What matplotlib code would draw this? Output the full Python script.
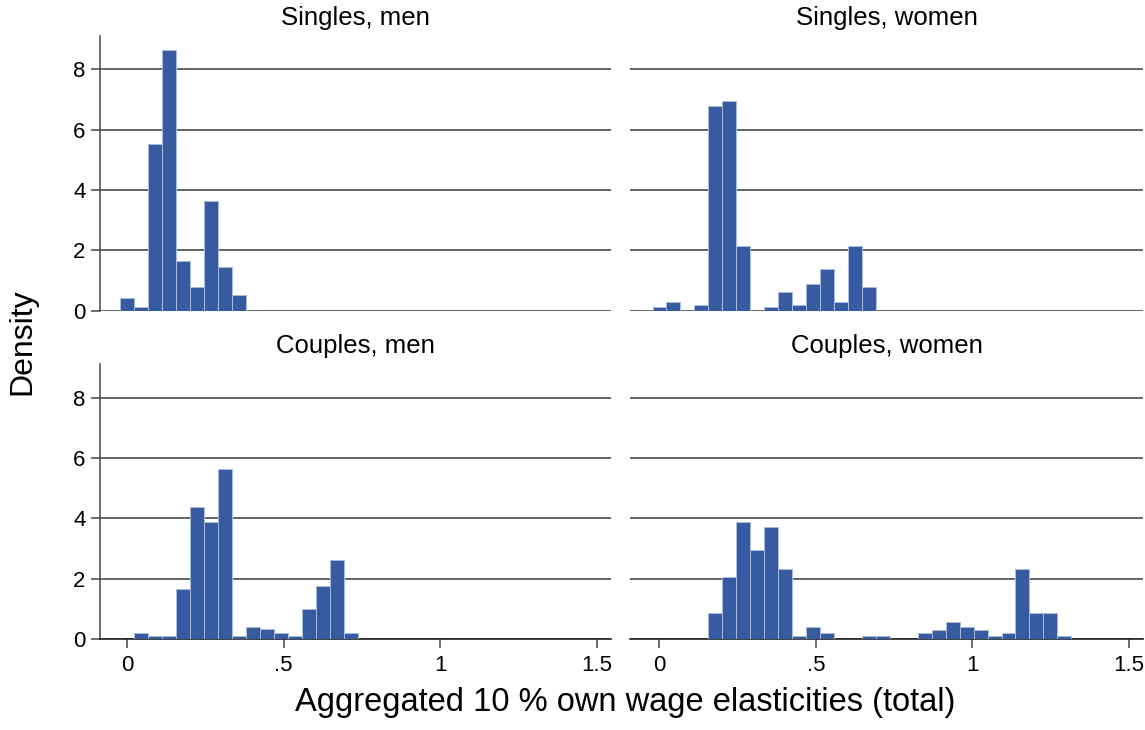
import numpy as np
import matplotlib
matplotlib.use("Agg")
import matplotlib.pyplot as plt

plt.rcParams['font.family'] = ['Liberation Sans', 'DejaVu Sans']

# common bins used by all four panels
bin_start = -0.022
bin_width = 0.0446
n_bins = 30

panel_titles = ["Singles, men", "Singles, women", "Couples, men", "Couples, women"]

# density per bin
singles_men = [0.41, 0.11, 5.52, 8.64, 1.64, 0.78, 3.64, 1.46, 0.51, 0,
               0, 0, 0, 0, 0, 0, 0, 0, 0, 0,
               0, 0, 0, 0, 0, 0, 0, 0, 0, 0]
singles_women = [0.11, 0.28, 0, 0.20, 6.78, 6.94, 2.14, 0, 0.11, 0.62,
                 0.20, 0.87, 1.37, 0.28, 2.14, 0.78, 0, 0, 0, 0,
                 0, 0, 0, 0, 0, 0, 0, 0, 0, 0]
couples_men = [0, 0.21, 0.11, 0.11, 1.67, 4.36, 3.89, 5.62, 0.11, 0.41,
               0.32, 0.21, 0.11, 0.99, 1.76, 2.63, 0.21, 0, 0, 0,
               0, 0, 0, 0, 0, 0, 0, 0, 0, 0]
couples_women = [0, 0, 0, 0, 0.85, 2.04, 3.88, 2.96, 3.70, 2.32,
                 0.11, 0.39, 0.20, 0, 0, 0.11, 0.11, 0, 0, 0.20,
                 0.30, 0.56, 0.39, 0.30, 0.11, 0.20, 2.32, 0.85, 0.85, 0.11]

y_ticks = [0, 2, 4, 6, 8]
x_ticks = [0, 0.5, 1, 1.5]
x_tick_labels = ["0", ".5", "1", "1.5"]

bar_color = "#375ba0"
edges = bin_start + bin_width * np.arange(n_bins + 1)

fig = plt.figure(figsize=(11.45, 7.3), dpi=100)
W, H = 1145, 730

def px_axes(x0, x1, ytop, ybot):
    return fig.add_axes([x0 / W, 1 - ybot / H, (x1 - x0) / W, (ybot - ytop) / H])

axes = [px_axes(100, 611, 36, 310.7), px_axes(630, 1143, 36, 310.7),
        px_axes(100, 611, 364.3, 639), px_axes(630, 1143, 364.3, 639)]
data = [singles_men, singles_women, couples_men, couples_women]

for i, (ax, heights) in enumerate(zip(axes, data)):
    heights = np.array(heights)
    keep = heights > 0
    ax.bar(edges[:-1][keep], heights[keep], width=bin_width, align='edge',
           color=bar_color, edgecolor="#a9bbdc", linewidth=0.7, zorder=3)
    for yv in y_ticks:
        ax.axhline(yv, color="#3a3a3a", linewidth=1.1, zorder=1)
    ax.set_ylim(0, 9.1)
    if i % 2 == 0:
        ax.set_xlim(-0.086, 1.544)
    else:
        ax.set_xlim(-0.094, 1.545)
    ax.set_title(panel_titles[i], fontsize=18.5, pad=8)
    for s in ["top", "right"]:
        ax.spines[s].set_visible(False)
    ax.spines["left"].set_color("#444444")
    ax.spines["left"].set_linewidth(1.1)
    if i % 2 == 0:
        ax.set_yticks(y_ticks)
        ax.set_yticklabels([str(v) for v in y_ticks])
        ax.tick_params(axis='y', length=6.5, width=1.1, color="#444444",
                       labelsize=16, pad=4)
    else:
        ax.spines["left"].set_visible(False)
        ax.set_yticks([])
    if i >= 2:
        ax.set_xticks(x_ticks)
        ax.set_xticklabels(x_tick_labels)
        ax.tick_params(axis='x', length=6.5, width=1.1, color="#444444",
                       labelsize=16, pad=5)
        ax.spines["bottom"].set_color("#222222")
        ax.spines["bottom"].set_linewidth(1.2)
    else:
        ax.set_xticks([])
        ax.spines["bottom"].set_visible(False)

fig.text(22 / W, 1 - 342 / H, "Density", rotation=90, fontsize=23,
         ha='center', va='center')
fig.text(625 / W, 1 - 711 / H, "Aggregated 10 % own wage elasticities (total)",
         fontsize=23.5, ha='center', va='baseline')

fig.savefig("out.png", dpi=100)
